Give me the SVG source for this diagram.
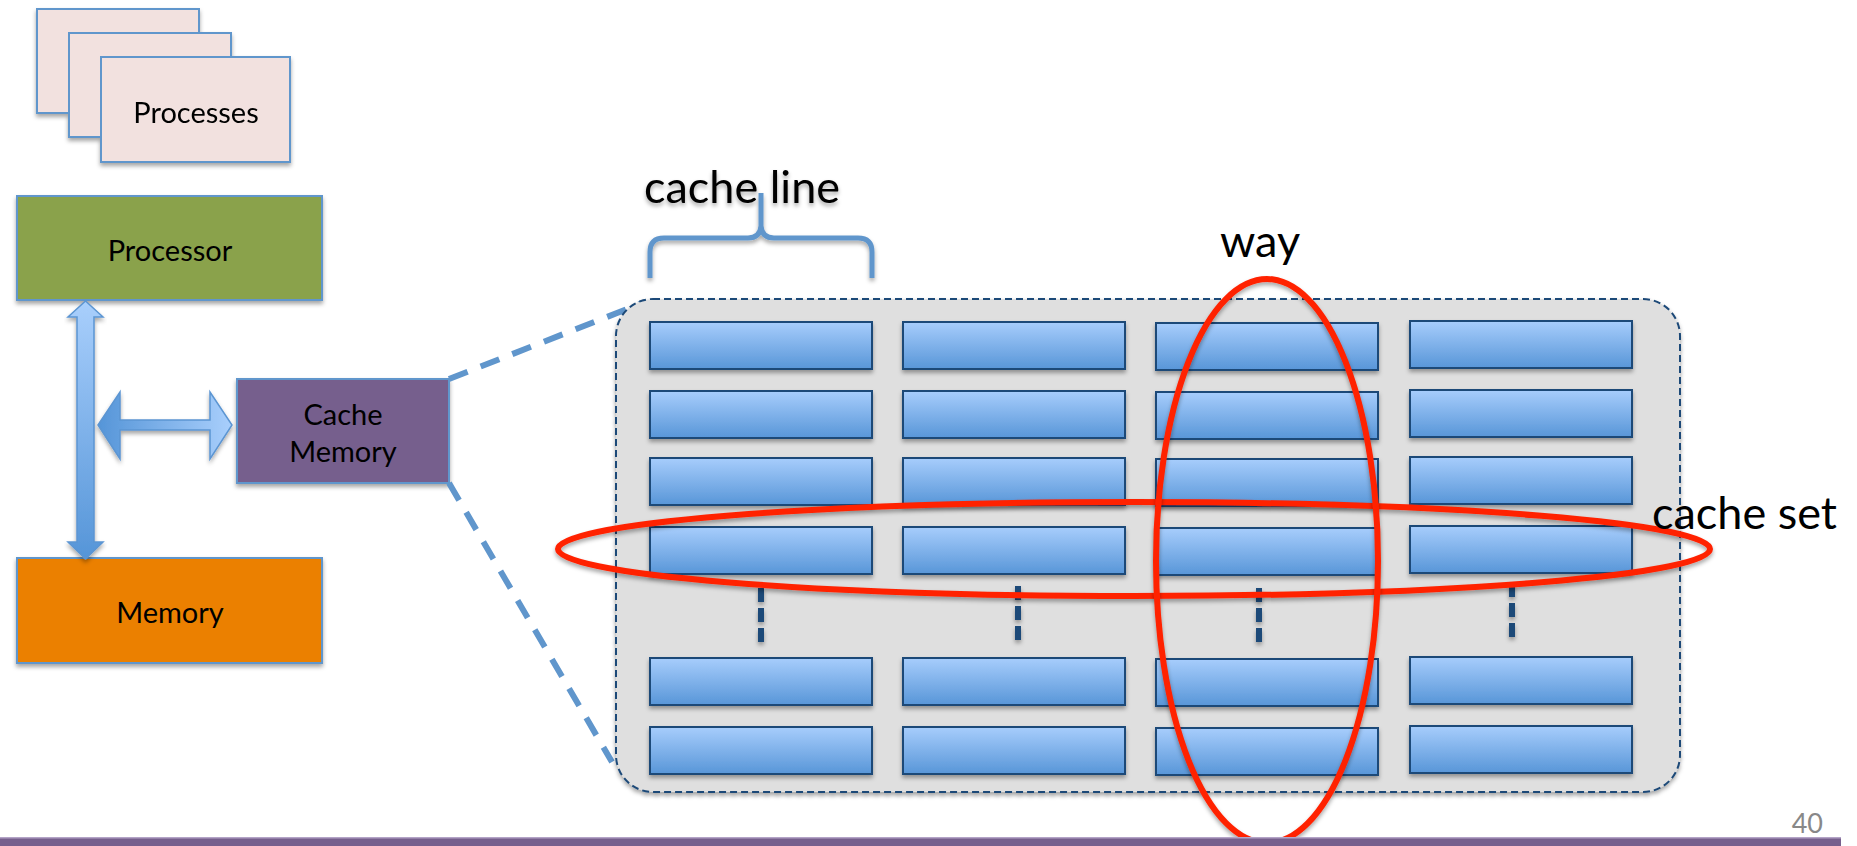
<svg xmlns="http://www.w3.org/2000/svg" width="1857" height="846" viewBox="0 0 1857 846">
<style>
text{font-family:Lato,"Open Sans","Liberation Sans",sans-serif;fill:#000}
.proc{fill:#f2e1df;stroke:#6096cc;stroke-width:2}
.box{stroke:#6096cc;stroke-width:2}
.cell{fill:url(#cellg);stroke:#1f4a78;stroke-width:2}
.lbl{font-size:29px;text-anchor:middle}
.big{font-size:45px}
.red{fill:none;stroke:#ff2200;stroke-width:6}
.vdash{stroke:#1f4a78;stroke-width:6;stroke-dasharray:14,6}
.zoom{fill:none;stroke:#6096cc;stroke-width:6;stroke-dasharray:20,14}
</style>
<defs>
<linearGradient id="cellg" x1="0" y1="0" x2="0" y2="1">
<stop offset="0" stop-color="#a7cdfc"/>
<stop offset="1" stop-color="#5896d8"/>
</linearGradient>
<linearGradient id="varr" x1="0" y1="0" x2="0" y2="1">
<stop offset="0" stop-color="#a9cffc"/>
<stop offset="1" stop-color="#5595d8"/>
</linearGradient>
<linearGradient id="harr" x1="0" y1="0" x2="1" y2="0">
<stop offset="0" stop-color="#5595d8"/>
<stop offset="1" stop-color="#a9cffc"/>
</linearGradient>
<filter id="sh" x="-10%" y="-10%" width="120%" height="130%">
<feDropShadow dx="0" dy="3" stdDeviation="2" flood-color="#000" flood-opacity="0.35"/>
</filter>
</defs>
<rect width="1857" height="846" fill="#fff"/>

<g id="processes" filter="url(#sh)">
<rect class="proc" x="37" y="9" width="162" height="104"/>
<rect class="proc" x="69" y="33" width="162" height="104"/>
<rect class="proc" x="101" y="57" width="189" height="105"/>
<text class="lbl" x="196" y="123">Processes</text>
</g>

<g id="processor">
<rect class="box" x="17" y="196" width="305" height="104" fill="#8aa24c" filter="url(#sh)"/>
<text class="lbl" x="170" y="261">Processor</text>
</g>

<g id="memory">
<rect class="box" x="17" y="558" width="305" height="105" fill="#eb8006" filter="url(#sh)"/>
<text class="lbl" x="170" y="623">Memory</text>
</g>

<g id="cache-memory">
<rect class="box" x="237" y="379" width="212" height="104" fill="#765f8d" filter="url(#sh)"/>
<text class="lbl" x="343" y="425">Cache</text>
<text class="lbl" x="343" y="462">Memory</text>
</g>

<g id="connectors">
<polygon points="85.5,301 103,317 94,317 94,542 103,542 85.5,559 68,542 77,542 77,317 68,317" fill="url(#varr)" stroke="#5b95d2" stroke-width="1.5" filter="url(#sh)"/>
<polygon points="98,425 120,392 120,420 210,420 210,392 232,425 210,459 210,430 120,430 120,459" fill="url(#harr)" stroke="#5b95d2" stroke-width="1.5" filter="url(#sh)"/>
<line class="zoom" x1="449" y1="379" x2="645" y2="302"/>
<line class="zoom" x1="449" y1="483" x2="612" y2="762"/>
</g>

<g id="cache">
<rect x="616" y="299" width="1064" height="493" rx="37" fill="#dfdfdf" stroke="#1f4a78" stroke-width="2" stroke-dasharray="7,4" filter="url(#sh)"/>
<g filter="url(#sh)">
<rect class="cell" x="650" y="322" width="222" height="47"/>
<rect class="cell" x="650" y="391" width="222" height="47"/>
<rect class="cell" x="650" y="458" width="222" height="47"/>
<rect class="cell" x="650" y="527" width="222" height="47"/>
<rect class="cell" x="650" y="658" width="222" height="47"/>
<rect class="cell" x="650" y="727" width="222" height="47"/>
<rect class="cell" x="903" y="322" width="222" height="47"/>
<rect class="cell" x="903" y="391" width="222" height="47"/>
<rect class="cell" x="903" y="458" width="222" height="47"/>
<rect class="cell" x="903" y="527" width="222" height="47"/>
<rect class="cell" x="903" y="658" width="222" height="47"/>
<rect class="cell" x="903" y="727" width="222" height="47"/>
<rect class="cell" x="1156" y="323" width="222" height="47"/>
<rect class="cell" x="1156" y="392" width="222" height="47"/>
<rect class="cell" x="1156" y="459" width="222" height="47"/>
<rect class="cell" x="1156" y="528" width="222" height="47"/>
<rect class="cell" x="1156" y="659" width="222" height="47"/>
<rect class="cell" x="1156" y="728" width="222" height="47"/>
<rect class="cell" x="1410" y="321" width="222" height="47"/>
<rect class="cell" x="1410" y="390" width="222" height="47"/>
<rect class="cell" x="1410" y="457" width="222" height="47"/>
<rect class="cell" x="1410" y="526" width="222" height="47"/>
<rect class="cell" x="1410" y="657" width="222" height="47"/>
<rect class="cell" x="1410" y="726" width="222" height="47"/>
<line class="vdash" x1="761" y1="588" x2="761" y2="647"/>
<line class="vdash" x1="1018" y1="586" x2="1018" y2="645"/>
<line class="vdash" x1="1259" y1="588" x2="1259" y2="647"/>
<line class="vdash" x1="1512" y1="583" x2="1512" y2="642"/>
</g>
</g>

<g id="cache-line" filter="url(#sh)">
<path d="M650,278 V252 Q650,238 664,238 H748 Q760,238 761,226 V193 M761,193 V226 Q762,238 774,238 H858 Q872,238 872,252 V278" fill="none" stroke="#6096cc" stroke-width="5"/>
<text class="big" x="644" y="203">cache line</text>
</g>

<g id="cache-set">
<ellipse class="red" cx="1134" cy="549" rx="576" ry="47" filter="url(#sh)"/>
<text class="big" x="1652" y="529">cache set</text>
</g>

<g id="way">
<ellipse class="red" cx="1267" cy="561" rx="111" ry="282" filter="url(#sh)"/>
<text class="big" x="1220" y="257">way</text>
</g>

<g id="footer">
<rect x="0" y="837" width="1841" height="9" fill="#765f8d"/>
<rect x="0" y="837" width="1841" height="1.5" fill="#b3a3c6"/>
<text x="1823" y="833" font-size="27" text-anchor="end" style="fill:#888">40</text>
</g>
</svg>
